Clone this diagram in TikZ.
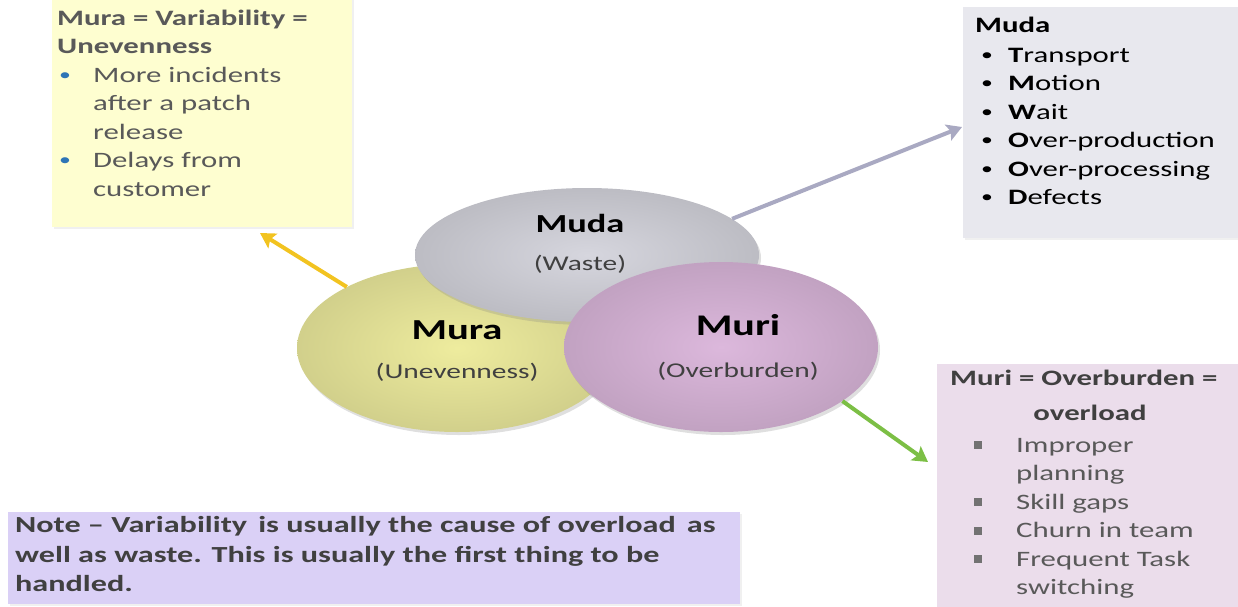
\documentclass[tikz,border=0pt]{standalone}
\usepackage{fontspec}
\setmainfont{Carlito}[FakeStretch=1.4]
\usetikzlibrary{arrows.meta,shapes.geometric,shadows}
\definecolor{ybox}{HTML}{FEFED0}
\definecolor{gbox}{HTML}{E8E8EE}
\definecolor{pbox}{HTML}{EBDDEB}
\definecolor{nbox}{HTML}{DAD0F6}
\definecolor{mudafill}{HTML}{D6D6DE}
\definecolor{murafill}{HTML}{EEEC9E}
\definecolor{murifill}{HTML}{DCB8DC}
\definecolor{yarr}{HTML}{F2C320}
\definecolor{garr}{HTML}{A9A9C2}
\definecolor{grarr}{HTML}{7CBF45}
\definecolor{bblue}{HTML}{2E75B6}
\definecolor{dtext}{HTML}{404040}
\definecolor{mtext}{HTML}{595959}
\begin{document}
\begin{tikzpicture}[x=1pt,y=-1pt,
  box/.style={draw=none,drop shadow={opacity=0.12,shadow xshift=2pt,shadow yshift=-2pt}},
  ell/.style={ellipse,inner sep=0pt,drop shadow={opacity=0.25,shadow xshift=2pt,shadow yshift=-3pt}},
  tx/.style={anchor=base west,inner sep=0pt,font=\fontsize{22}{28}\selectfont},
  txc/.style={anchor=base,inner sep=0pt,font=\fontsize{22}{28}\selectfont},
  bul/.style={anchor=base west,inner sep=0pt,font=\fontsize{17}{28}\selectfont},
  ttl/.style={anchor=base,inner sep=0pt,font=\bfseries\fontsize{29}{32}\selectfont},
  sub/.style={anchor=base,inner sep=0pt,font=\fontsize{21}{24}\selectfont,text=dtext},
  arr/.style={line width=4pt,-{Stealth[length=15pt,width=17pt,inset=3pt]}},
  sq/.style={rectangle,fill=mtext!85,minimum width=8pt,minimum height=8pt,inner sep=0pt}]
\useasboundingbox (0,0) rectangle (1238,606);
% boxes
\fill[ybox,box] (52,-6) rectangle (352,227);
\fill[gbox,box] (963,7) rectangle (1245,238);
\fill[pbox,box] (937,364) rectangle (1245,615);
\fill[nbox,box] (8,512) rectangle (740,604);
% arrow tips
\coordinate (ytip) at (260,233);
\coordinate (gtip) at (962,127);
\coordinate (grtip) at (928,462);
% ellipses
\node[ell,inner color=murafill,outer color=murafill!88!black,minimum width=320pt,minimum height=168pt] (mura) at (457,348) {};
\node[ell,inner color=mudafill,outer color=mudafill!88!black,minimum width=344pt,minimum height=134pt] (muda) at (587,255) {};
\node[ell,inner color=murifill,outer color=murifill!88!black,minimum width=314pt,minimum height=170pt] (muri) at (721,347) {};
% arrows
\draw[arr,yarr] (mura.151) -- (ytip);
\draw[arr,garr] (muda.14) -- (gtip);
\draw[arr,grarr] (muri.-24) -- (grtip);
% ellipse texts
\node[ttl,font=\bfseries\fontsize{26}{30}\selectfont] (mudat) at (580,232) {Muda};
\node[sub] (mudas) at (580,270) {(Waste)};
\node[ttl] (murat) at (457,339) {Mura};
\node[sub] (muras) at (457,378) {(Unevenness)};
\node[ttl,font=\bfseries\fontsize{30}{32}\selectfont] (murit) at (738,335) {Muri};
\node[sub] (muris) at (738,377) {(Overburden)};
% yellow box text
\node[tx,font=\bfseries\fontsize{22}{28}\selectfont,text=mtext] (y1) at (57,25) {Mura = Variability =};
\node[tx,font=\bfseries\fontsize{22}{28}\selectfont,text=mtext] (y2) at (57,53) {Unevenness};
\node[bul,text=bblue] (yb1) at (59,80) {•};
\node[tx,text=mtext] (y3) at (93,82) {More incidents};
\node[tx,text=mtext] (y4) at (93,110.5) {after a patch};
\node[tx,text=mtext] (y5) at (93,139) {release};
\node[bul,text=bblue] (yb2) at (59,165.5) {•};
\node[tx,text=mtext] (y6) at (93,167.5) {Delays from};
\node[tx,text=mtext] (y7) at (93,196) {customer};
% gray box text
\node[tx,font=\bfseries\fontsize{22}{28}\selectfont] (g0) at (975,32) {Muda};
\node[bul] (gb1) at (981,60) {•};
\node[tx] (g1) at (1008,62) {\textbf{T}ransport};
\node[bul] (gb2) at (981,88.5) {•};
\node[tx] (g2) at (1008,90.5) {\textbf{M}otion};
\node[bul] (gb3) at (981,117) {•};
\node[tx] (g3) at (1008,119) {\textbf{W}ait};
\node[bul] (gb4) at (981,145.5) {•};
\node[tx] (g4) at (1008,147.5) {\textbf{O}ver-production};
\node[bul] (gb5) at (981,174) {•};
\node[tx] (g5) at (1008,176) {\textbf{O}ver-processing};
\node[bul] (gb6) at (981,202.5) {•};
\node[tx] (g6) at (1008,204.5) {\textbf{D}efects};
% pink box text
\node[tx,font=\bfseries\fontsize{22}{28}\selectfont,text=dtext] (p0) at (950,385) {Muri = Overburden =};
\node[txc,font=\bfseries\fontsize{22}{28}\selectfont,text=dtext] (p1) at (1090,420) {overload};
\node[sq] (pb1) at (978,445) {};
\node[tx,text=mtext] (p2) at (1016,452) {Improper};
\node[tx,text=mtext] (p3) at (1016,480.5) {planning};
\node[sq] (pb2) at (978,502) {};
\node[tx,text=mtext] (p4) at (1016,509) {Skill gaps};
\node[sq] (pb3) at (978,530.5) {};
\node[tx,text=mtext] (p5) at (1016,537.5) {Churn in team};
\node[sq] (pb4) at (978,559) {};
\node[tx,text=mtext] (p6) at (1016,566) {Frequent Task};
\node[tx,text=mtext] (p7) at (1016,594.5) {switching};
% note text
\node[tx,font=\bfseries\fontsize{23}{28}\selectfont,text=dtext] (n1) at (15,532) {Note -- Variability\, is usually the cause of overload\, as};
\node[tx,font=\bfseries\fontsize{23}{28}\selectfont,text=dtext] (n2) at (15,562) {well as waste. This is usually the first thing to be};
\node[tx,font=\bfseries\fontsize{23}{28}\selectfont,text=dtext] (n3) at (15,591) {handled.};
\end{tikzpicture}
\end{document}
